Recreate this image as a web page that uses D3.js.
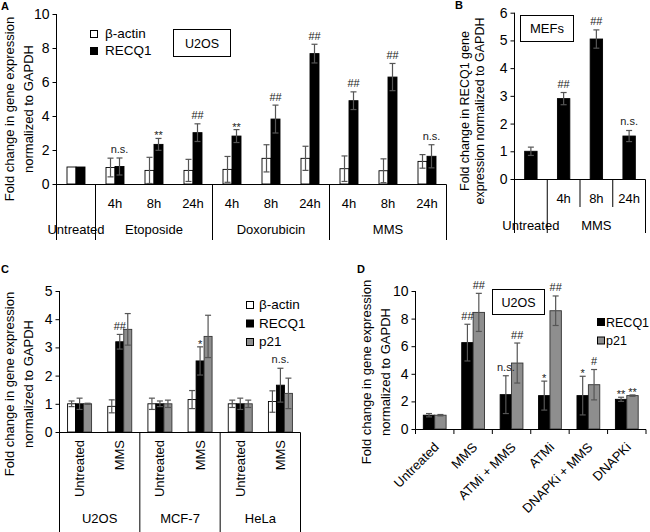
<!DOCTYPE html>
<html><head><meta charset="utf-8">
<script src="https://cdn.jsdelivr.net/npm/d3@7"></script>
<style>body{margin:0;background:#fff}</style>
</head><body><svg id="chart" width="650" height="532"></svg>
<script>
// ================= DATA =================
// Panel A (U2OS)
const groupNamesA = ["Untreated","Etoposide","Doxorubicin","MMS"];
const groupSizesA = [1,3,3,3];
const timeLabelsA = ["","4h","8h","24h","4h","8h","24h","4h","8h","24h"];
const actinA    = [1.00,0.97,0.80,0.80,0.86,1.51,1.51,0.90,0.78,1.33];
const actinErrA = [0,   0.55,0.77,0.65,0.76,0.80,0.71,0.75,0.70,0.40];
const recq1A    = [1.00,1.03,2.33,3.02,2.82,3.82,7.67,4.90,6.29,1.63];
const recq1ErrA = [0,   0.50,0.35,0.52,0.38,0.82,0.55,0.52,0.80,0.68];
const sigA      = ["","n.s.","**","##","**","##","##","##","##","n.s."];
const ticksA    = [0,2,4,6,8,10];

// Panel B (MEFs)
const groupNamesB = ["Untreated","MMS"];
const groupSizesB = [1,3];
const timeLabelsB = ["","4h","8h","24h"];
const recq1B    = [1.00,2.90,5.05,1.55];
const recq1ErrB = [0.15,0.22,0.33,0.20];
const sigB      = ["","##","##","n.s."];
const ticksB    = [0,1,2,3,4,5,6];

// Panel C
const groupNamesC = ["U2OS","MCF-7","HeLa"];
const groupSizesC = [2,2,2];
const treatLabelsC = ["Untreated","MMS","Untreated","MMS","Untreated","MMS"];
const actinC    = [1.00,0.91,1.00,1.15,1.00,1.08];
const actinErrC = [0.10,0.23,0.20,0.32,0.13,0.38];
const recq1C    = [1.00,3.20,1.00,2.52,1.00,1.66];
const recq1ErrC = [0.20,0.26,0.10,0.50,0.20,0.60];
const p21C      = [1.00,3.64,1.00,3.39,1.00,1.37];
const p21ErrC   = [0.02,0.56,0.13,0.75,0.13,0.54];
const sigC      = ["","##","","*","","n.s."];
const ticksC    = [0,1,2,3,4,5];

// Panel D (U2OS)
const treatLabelsD = ["Untreated","MMS","ATMi + MMS","ATMi","DNAPKi + MMS","DNAPKi"];
const recq1D    = [1.00,6.26,2.49,2.42,2.42,2.15];
const recq1ErrD = [0.12,1.33,1.37,1.05,1.40,0.15];
const p21D      = [1.00,8.45,4.78,8.57,3.21,2.42];
const p21ErrD   = [0.05,1.38,1.45,1.07,1.10,0.05];
const sigRecq1D = ["","##","n.s.","*","*","**"];
const sigP21D   = ["","##","##","##","#","**"];
const ticksD    = [0,2,4,6,8,10];

// ================= HELPERS =================
const FONT = "'Liberation Sans', Arial, sans-serif";
const ERRC = "#555";
const GRAY = "#8e8e8e";
const svg = d3.select("#chart");
svg.append("rect").attr("width",650).attr("height",532).attr("fill","#fff");

function line(g,x1,y1,x2,y2,stroke="#000",w=1){
  return g.append("line").attr("x1",x1).attr("y1",y1).attr("x2",x2).attr("y2",y2)
    .attr("stroke",stroke).attr("stroke-width",w);
}
function txt(g,x,y,t,fs,o={}){
  const e = g.append("text").attr("x",x).attr("y",y).text(t)
    .attr("font-size",fs).attr("font-family",FONT).attr("fill",o.fill||"#000");
  if(o.anchor) e.attr("text-anchor",o.anchor);
  if(o.weight) e.attr("font-weight",o.weight);
  if(o.rotate!=null) e.attr("transform",`rotate(${o.rotate},${x},${y})`);
  if(o.dy) e.attr("dy",o.dy);
  return e;
}
function yAxis(g,y,x,ticks,fs){
  const a = g.append("g").attr("transform",`translate(${x},0)`)
    .call(d3.axisLeft(y).tickValues(ticks).tickFormat(d3.format("d")).tickSize(4).tickPadding(3).tickSizeOuter(0));
  a.select(".domain").remove();
  a.selectAll("line").attr("stroke","#000");
  a.selectAll("text").attr("font-size",fs).attr("font-family",FONT).attr("fill","#000");
}
function series(g,xB,sub,y,key,vals,errs,fill,stroke){
  const bw = sub.bandwidth();
  g.selectAll(null).data(vals).join("rect")
    .attr("x",(d,i)=>xB(i)+sub(key)).attr("y",d=>y(d))
    .attr("width",bw).attr("height",d=>y(0)-y(d))
    .attr("fill",fill).attr("stroke",stroke).attr("stroke-width",0.9);
  vals.forEach((v,i)=>{
    const e = errs[i]; if(!e) return;
    const cx = xB(i)+sub(key)+bw/2;
    line(g,cx,y(v-e),cx,y(v+e),ERRC,1.2);
    line(g,cx-3,y(v+e),cx+3,y(v+e),ERRC,1.2);
    line(g,cx-3,y(v-e),cx+3,y(v-e),ERRC,1.2);
  });
}
function sig(g,xB,sub,y,key,vals,errs,labels,dx=0){
  const bw = sub.bandwidth();
  labels.forEach((s,i)=>{
    if(!s) return;
    const cx = xB(i)+sub(key)+bw/2+dx;
    const top = y(vals[i]+errs[i]);
    let yy = top-5;
    if(s.includes("*")) yy = top+1;
    else if(s.includes("#")) yy = top-4.5;
    txt(g,cx,yy,s,11,{anchor:"middle",fill:"#222"});
  });
}
function yTitle(g,x1,x2,cy,l1,l2,fs=13){
  txt(g,x1,cy,l1,fs,{anchor:"middle",rotate:-90});
  txt(g,x2,cy,l2,fs,{anchor:"middle",rotate:-90});
}
function box(g,x,y,w,h,t,fs,by){
  g.append("rect").attr("x",x).attr("y",y).attr("width",w).attr("height",h)
    .attr("fill","#fff").attr("stroke","#000").attr("stroke-width",1);
  txt(g,x+w/2,by,t,fs,{anchor:"middle"});
}
function multiAxis(g,xB,y0,leftX,rightX,names,sizes,o){
  line(g,leftX,y0,rightX,y0);
  let cum=0;
  names.forEach((n,gi)=>{
    const s=cum; cum+=sizes[gi];
    const xs=xB(s), xe=xB(cum-1)+xB.bandwidth();
    line(g,xe,y0,xe,o.bottom);
    if(o.inner) for(let k=s+1;k<cum;k++) line(g,xB(k),y0,xB(k),o.inner);
    txt(g,(xs+xe)/2,o.groupY,n,13,{anchor:"middle"});
  });
}

// ================= PANEL A =================
const gA = svg.append("g");
const xA = d3.scaleBand().domain(d3.range(timeLabelsA.length)).range([56.5,446.5]);
const subA = d3.scaleBand().domain(["actin","recq1"]).range([xA.bandwidth()/2-9,xA.bandwidth()/2+9]);
const yA = d3.scaleLinear().domain([0,10]).range([184,14]);
series(gA,xA,subA,yA,"actin",actinA,actinErrA,"#fff","#000");
series(gA,xA,subA,yA,"recq1",recq1A,recq1ErrA,"#000","#000");
sig(gA,xA,subA,yA,"recq1",recq1A,recq1ErrA,sigA);
yAxis(gA,yA,56.5,ticksA,14);
line(gA,56.5,14,56.5,240);
multiAxis(gA,xA,184.5,56.5,446.5,groupNamesA,groupSizesA,{bottom:240,groupY:234});
timeLabelsA.forEach((t,i)=>{ if(t) txt(gA,xA(i)+xA.bandwidth()/2,208,t,13,{anchor:"middle"}); });
yTitle(gA,14,33,109,"Fold change in gene expression","normalized to GAPDH");
gA.append("rect").attr("x",90.5).attr("y",30.5).attr("width",7).attr("height",7).attr("fill","#fff").attr("stroke","#000");
txt(gA,105,37.5,"β-actin",13.5);
gA.append("rect").attr("x",90.5).attr("y",47.5).attr("width",7).attr("height",7).attr("fill","#000").attr("stroke","#000");
txt(gA,105,54.5,"RECQ1",13.5);
box(gA,173.5,29.5,57,27,"U2OS",12.5,47.5);
txt(gA,1,10,"A",11,{weight:"bold"});

// ================= PANEL B =================
const gB = svg.append("g");
const xB = d3.scaleBand().domain(d3.range(timeLabelsB.length)).range([514.5,645.5]);
const subB = d3.scaleBand().domain(["recq1"]).range([xB.bandwidth()/2-6.2,xB.bandwidth()/2+6.2]);
const yB = d3.scaleLinear().domain([0,6]).range([179,12.7]);
series(gB,xB,subB,yB,"recq1",recq1B,recq1ErrB,"#000","#000");
sig(gB,xB,subB,yB,"recq1",recq1B,recq1ErrB,sigB);
yAxis(gB,yB,514.5,ticksB,14);
line(gB,514.5,12.7,514.5,233);
multiAxis(gB,xB,179.5,514.5,645.5,groupNamesB,groupSizesB,{bottom:233,groupY:230,inner:207});
timeLabelsB.forEach((t,i)=>{ if(t) txt(gB,xB(i)+xB.bandwidth()/2,203,t,13,{anchor:"middle"}); });
yTitle(gB,469,484,111,"Fold change in RECQ1 gene","expression normalized to GAPDH",12.5);
box(gB,520.5,15.5,53,26,"MEFs",13,33);
txt(gB,455,9,"B",11,{weight:"bold"});

// ================= PANEL C =================
const gC = svg.append("g");
const xC = d3.scaleBand().domain(d3.range(treatLabelsC.length)).range([59.5,300.5]);
const subC = d3.scaleBand().domain(["actin","recq1","p21"]).range([xC.bandwidth()/2-12,xC.bandwidth()/2+12]);
const yC = d3.scaleLinear().domain([0,5]).range([432,291]);
series(gC,xC,subC,yC,"actin",actinC,actinErrC,"#fff","#000");
series(gC,xC,subC,yC,"recq1",recq1C,recq1ErrC,"#000","#000");
series(gC,xC,subC,yC,"p21",p21C,p21ErrC,GRAY,"#333");
sig(gC,xC,subC,yC,"recq1",recq1C,recq1ErrC,sigC);
yAxis(gC,yC,59.5,ticksC,14);
line(gC,59.5,291,59.5,532);
multiAxis(gC,xC,432.5,59.5,300.5,groupNamesC,groupSizesC,{bottom:532,groupY:523});
treatLabelsC.forEach((t,i)=>{
  txt(gC,xC(i)+xC.bandwidth()/2,440,t,13,{anchor:"end",rotate:-90,dy:"0.35em"});
});
yTitle(gC,14,33,384,"Fold change in gene expression","normalized to GAPDH");
[["β-actin","#fff"],["RECQ1","#000"],["p21",GRAY]].forEach((d,i)=>{
  const yy = 301.5+i*18.5;
  gC.append("rect").attr("x",246.5).attr("y",yy).attr("width",7).attr("height",7).attr("fill",d[1]).attr("stroke","#000");
  txt(gC,259,yy+7.5,d[0],13.5);
});
txt(gC,1,273,"C",11,{weight:"bold"});

// ================= PANEL D =================
const gD = svg.append("g");
const xD = d3.scaleBand().domain(d3.range(treatLabelsD.length)).range([415.5,646]);
const subD = d3.scaleBand().domain(["recq1","p21"]).range([xD.bandwidth()/2-11.4,xD.bandwidth()/2+11.4]);
const yD = d3.scaleLinear().domain([0,10]).range([429,291]);
series(gD,xD,subD,yD,"recq1",recq1D,recq1ErrD,"#000","#000");
series(gD,xD,subD,yD,"p21",p21D,p21ErrD,GRAY,"#333");
sig(gD,xD,subD,yD,"recq1",recq1D,recq1ErrD,sigRecq1D);
sig(gD,xD,subD,yD,"p21",p21D,p21ErrD,sigP21D);
yAxis(gD,yD,415.5,ticksD,14);
line(gD,415.5,291,415.5,429.5);
line(gD,415.5,429.5,646,429.5);
d3.range(treatLabelsD.length+1).forEach(k=>{
  const xx = k<treatLabelsD.length ? xD(k) : xD(k-1)+xD.bandwidth();
  line(gD,xx,429.5,xx,434);
});
treatLabelsD.forEach((t,i)=>{
  txt(gD,xD(i)+xD.bandwidth()/2+5,448,t,13,{anchor:"end",rotate:-45});
});
yTitle(gD,371,390,372,"Fold change in gene expression","normalized to GAPDH");
[["RECQ1","#000"],["p21",GRAY]].forEach((d,i)=>{
  const yy = 318.5+i*18.5;
  gD.append("rect").attr("x",597.5).attr("y",yy).attr("width",7).attr("height",7).attr("fill",d[1]).attr("stroke","#000");
  txt(gD,606,yy+8,d[0],12.5);
});
box(gD,492.5,289.5,52,25,"U2OS",12.5,306.5);
txt(gD,357,273,"D",11,{weight:"bold"});
</script></body></html>
